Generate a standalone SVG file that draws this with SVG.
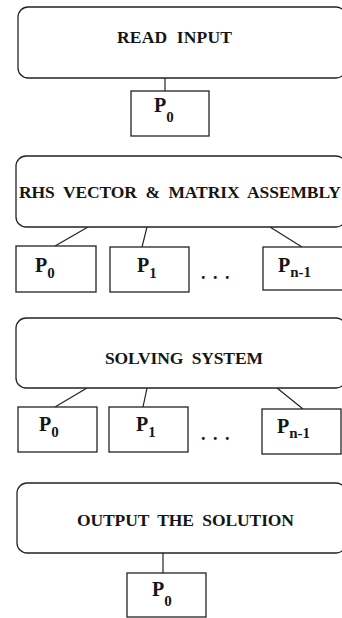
<svg xmlns="http://www.w3.org/2000/svg" width="342" height="618" viewBox="0 0 342 618">
<style>
.stage{fill:#fff;stroke:#222;stroke-width:1.3}
.pbox{fill:#fff;stroke:#222;stroke-width:1.3}
.t{font-family:"Liberation Serif","Times New Roman",serif;font-weight:bold;fill:#151515}
.title{font-size:17.5px}
.p{font-size:20px}
.sub{font-size:15px}
.dots{font-size:18px;letter-spacing:7.5px}
#connectors line{stroke:#222;stroke-width:1.2}
</style>
<rect width="342" height="618" fill="#fff"/>
<g id="connectors">
<line x1="165" y1="78" x2="165" y2="91"/>
<line x1="88" y1="227" x2="55" y2="246"/>
<line x1="147" y1="227" x2="142" y2="247"/>
<line x1="270" y1="227" x2="302" y2="247"/>
<line x1="87" y1="388" x2="55" y2="407"/>
<line x1="147" y1="388" x2="143" y2="407"/>
<line x1="277" y1="388" x2="303" y2="409"/>
<line x1="163" y1="553" x2="163" y2="573"/>
</g>
<g id="read-input">
<rect class="stage" x="18" y="7" width="328" height="71" rx="10"/>
<text class="t title" x="117" y="43" textLength="115" lengthAdjust="spacing" xml:space="preserve">READ  INPUT</text>
</g>
<g id="read-p0">
<rect class="pbox" x="131" y="91" width="78" height="45"/>
<text class="t p" x="154" y="112">P<tspan class="sub" dy="10">0</tspan></text>
</g>
<g id="assembly">
<rect class="stage" x="16" y="156" width="330" height="71" rx="10"/>
<text class="t title" x="19" y="198" textLength="322" lengthAdjust="spacing" xml:space="preserve">RHS  VECTOR  &amp;  MATRIX  ASSEMBLY</text>
</g>
<g id="assembly-p0">
<rect class="pbox" x="16" y="246" width="80" height="46"/>
<text class="t p" x="35" y="272">P<tspan class="sub" dy="6">0</tspan></text>
</g>
<g id="assembly-p1">
<rect class="pbox" x="110" y="247" width="79" height="45"/>
<text class="t p" x="137" y="272">P<tspan class="sub" dy="6">1</tspan></text>
</g>
<g id="assembly-dots">
<text class="t dots" x="201" y="279">...</text>
</g>
<g id="assembly-pn">
<rect class="pbox" x="263" y="247" width="81" height="43"/>
<text class="t p" x="278" y="272">P<tspan class="sub" dy="5">n-1</tspan></text>
</g>
<g id="solving">
<rect class="stage" x="16" y="318" width="330" height="70" rx="10"/>
<text class="t title" x="105" y="364" textLength="158" lengthAdjust="spacing" xml:space="preserve">SOLVING  SYSTEM</text>
</g>
<g id="solving-p0">
<rect class="pbox" x="18" y="407" width="79" height="45"/>
<text class="t p" x="39" y="431">P<tspan class="sub" dy="6">0</tspan></text>
</g>
<g id="solving-p1">
<rect class="pbox" x="109" y="407" width="79" height="45"/>
<text class="t p" x="136" y="431">P<tspan class="sub" dy="6">1</tspan></text>
</g>
<g id="solving-dots">
<text class="t dots" x="201" y="440">...</text>
</g>
<g id="solving-pn">
<rect class="pbox" x="262" y="409" width="79" height="45"/>
<text class="t p" x="277" y="433">P<tspan class="sub" dy="5">n-1</tspan></text>
</g>
<g id="output">
<rect class="stage" x="17" y="483" width="329" height="70" rx="10"/>
<text class="t title" x="77" y="526" textLength="217" lengthAdjust="spacing" xml:space="preserve">OUTPUT  THE  SOLUTION</text>
</g>
<g id="output-p0">
<rect class="pbox" x="127" y="573" width="79" height="44"/>
<text class="t p" x="152" y="596">P<tspan class="sub" dy="10">0</tspan></text>
</g>
</svg>
